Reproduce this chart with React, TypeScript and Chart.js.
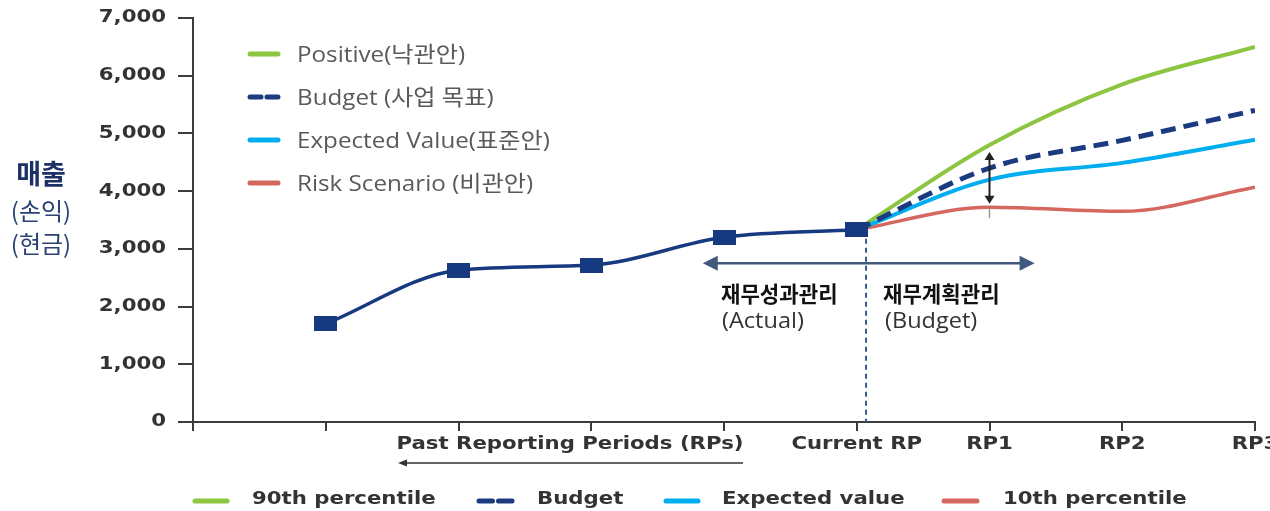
import React, { useEffect, useRef } from 'react';
import { Chart, registerables } from 'chart.js';

Chart.register(...registerables);

// ---------- data ----------
const actualPeriods = [1, 2, 3, 4, 5];
const actualValues = [1700, 2630, 2720, 3200, 3330];

const forecastPeriods = [5, 6, 7, 8];
const positiveValues = [3330, 4800, 5850, 6500];
const budgetValues = [3330, 4400, 4880, 5400];
const expectedValues = [3330, 4200, 4490, 4890];
const riskValues = [3330, 3720, 3650, 4070];

// index = period position 0..8
const xTickLabels = ['', '', '', '', '', 'Current RP', 'RP1', 'RP2', 'RP3'];
const yTickValues = [0, 1000, 2000, 3000, 4000, 5000, 6000, 7000];
const yTickLabels = ['0', '1,000', '2,000', '3,000', '4,000', '5,000', '6,000', '7,000'];

const pastLabel = 'Past Reporting Periods (RPs)';
const yTitleMain = '매출';
const yTitleSubs = ['(손익)', '(현금)'];

const topLegendLabels = ['Positive(낙관안)', 'Budget (사업 목표)', 'Expected Value(표준안)', 'Risk Scenario (비관안)'];
const bottomLegendLabels = ['90th percentile', 'Budget', 'Expected value', '10th percentile'];

const actualNote = ['재무성과관리', '(Actual)'];
const budgetNote = ['재무계획관리', '(Budget)'];

// ---------- styles ----------
const NAVY = '#17397f';
const GREEN = '#8cc540';
const DASH_NAVY = '#1b3a80';
const CYAN = '#00aeef';
const RED = '#d5675f';
const AXIS = '#3c3c3c';
const seriesColors = [GREEN, DASH_NAVY, CYAN, RED];
const STRETCH = 1.25;
const BOLD_FONT = "bold 17px 'DejaVu Sans', Verdana, sans-serif";

function drawText(
  ctx: CanvasRenderingContext2D,
  s: string,
  x: number,
  y: number,
  font: string,
  color: string,
  align: CanvasTextAlign = 'left',
  sx = 1
) {
  ctx.save();
  ctx.font = font;
  ctx.fillStyle = color;
  ctx.textBaseline = 'middle';
  ctx.textAlign = align;
  ctx.translate(x, y);
  ctx.scale(sx, 1);
  ctx.fillText(s, 0, 0);
  ctx.restore();
}

function arrowHead(
  ctx: CanvasRenderingContext2D,
  tipX: number,
  tipY: number,
  dx: number,
  dy: number,
  len: number,
  half: number
) {
  const bx = tipX - dx * len;
  const by = tipY - dy * len;
  const px = -dy;
  const py = dx;
  ctx.beginPath();
  ctx.moveTo(tipX, tipY);
  ctx.lineTo(bx + px * half, by + py * half);
  ctx.lineTo(bx - px * half, by - py * half);
  ctx.closePath();
  ctx.fill();
}

function legendSwatch(ctx: CanvasRenderingContext2D, i: number, x0: number, x1: number, y: number) {
  ctx.save();
  ctx.strokeStyle = seriesColors[i];
  ctx.lineWidth = 5;
  ctx.lineCap = 'round';
  ctx.beginPath();
  if (i === 1) {
    const mid = (x0 + x1) / 2;
    ctx.moveTo(x0 + 2, y);
    ctx.lineTo(mid - 3, y);
    ctx.moveTo(mid + 3, y);
    ctx.lineTo(x1 - 2, y);
  } else {
    ctx.moveTo(x0 + 2, y);
    ctx.lineTo(x1 - 2, y);
  }
  ctx.stroke();
  ctx.restore();
}

const overlayPlugin = {
  id: 'overlay',
  beforeDatasetsDraw(chart: any) {
    const { ctx, scales } = chart;
    const x = scales.x;
    const y = scales.y;
    ctx.save();
    ctx.strokeStyle = '#3a5a8c';
    ctx.lineWidth = 2;
    ctx.setLineDash([5, 4]);
    const vx = x.getPixelForValue(5.07);
    ctx.beginPath();
    ctx.moveTo(vx, y.getPixelForValue(actualValues[4]));
    ctx.lineTo(vx, y.bottom);
    ctx.stroke();
    ctx.restore();
  },
  afterDraw(chart: any) {
    const { ctx, scales } = chart;
    const x = scales.x;
    const y = scales.y;

    // y tick labels
    yTickValues.forEach((v, i) => {
      drawText(ctx, yTickLabels[i], 166, y.getPixelForValue(v), BOLD_FONT, '#333', 'right', STRETCH);
    });
    // x tick labels
    xTickLabels.forEach((lab, i) => {
      if (lab) drawText(ctx, lab, x.getPixelForValue(i), 445, BOLD_FONT, '#333', 'center', STRETCH);
    });
    // past periods label + arrow
    drawText(ctx, pastLabel, 570, 445, BOLD_FONT, '#333', 'center', STRETCH);
    ctx.save();
    ctx.strokeStyle = '#333';
    ctx.fillStyle = '#333';
    ctx.lineWidth = 1.5;
    ctx.beginPath();
    ctx.moveTo(404, 463);
    ctx.lineTo(743, 463);
    ctx.stroke();
    arrowHead(ctx, 398, 463, -1, 0, 9, 3.5);
    ctx.restore();

    // y axis title
    drawText(ctx, yTitleMain, 41, 174, "bold 27px 'Noto Sans CJK KR', sans-serif", '#1c3166', 'center');
    yTitleSubs.forEach((s, i) => {
      drawText(ctx, s, 41, 211 + i * 33, "24px 'Noto Sans CJK KR', sans-serif", '#2b4275', 'center');
    });

    // top-left legend
    topLegendLabels.forEach((s, i) => {
      const ry = 54 + i * 43;
      legendSwatch(ctx, i, 248, 280, ry);
      drawText(ctx, s, 297, ry + 2, "22px 'Open Sans', 'Noto Sans CJK KR', sans-serif", '#5a5a5a', 'left', 1.1);
    });

    // bottom legend
    const swatchX = [[193, 229], [477, 514], [664, 700], [942, 979]];
    const textX = [252, 537, 722, 1003];
    bottomLegendLabels.forEach((s, i) => {
      legendSwatch(ctx, i, swatchX[i][0], swatchX[i][1], 501);
      drawText(ctx, s, textX[i], 500, BOLD_FONT, '#333', 'left', STRETCH);
    });

    // horizontal double arrow (actual vs budget)
    const ay = y.getPixelForValue(2750);
    const ax0 = x.getPixelForValue(3.84);
    const ax1 = x.getPixelForValue(6.34);
    ctx.save();
    ctx.strokeStyle = '#41597f';
    ctx.fillStyle = '#41597f';
    ctx.lineWidth = 2.5;
    ctx.beginPath();
    ctx.moveTo(ax0 + 10, ay);
    ctx.lineTo(ax1 - 10, ay);
    ctx.stroke();
    arrowHead(ctx, ax0, ay, -1, 0, 15, 7.5);
    arrowHead(ctx, ax1, ay, 1, 0, 15, 7.5);
    ctx.restore();

    // annotations
    const noteBold = "bold 22px 'Noto Sans CJK KR', sans-serif";
    const noteLight = "21px 'Open Sans', 'Noto Sans CJK KR', sans-serif";
    drawText(ctx, actualNote[0], 721, 294, noteBold, '#111', 'left', 0.96);
    drawText(ctx, actualNote[1], 722, 322, noteLight, '#333', 'left', 1.12);
    drawText(ctx, budgetNote[0], 883, 294, noteBold, '#111', 'left', 0.96);
    drawText(ctx, budgetNote[1], 885, 322, noteLight, '#333', 'left', 1.12);

    // vertical double arrow at RP1
    const rx = x.getPixelForValue(6);
    const top = y.getPixelForValue(4680);
    const bot = y.getPixelForValue(3780);
    ctx.save();
    ctx.strokeStyle = '#222';
    ctx.fillStyle = '#222';
    ctx.lineWidth = 2;
    ctx.beginPath();
    ctx.moveTo(rx, top + 6);
    ctx.lineTo(rx, bot - 6);
    ctx.stroke();
    arrowHead(ctx, rx, top, 0, -1, 8, 5);
    arrowHead(ctx, rx, bot, 0, 1, 8, 5);
    ctx.strokeStyle = '#999';
    ctx.lineWidth = 1.5;
    ctx.beginPath();
    ctx.moveTo(rx, y.getPixelForValue(3700));
    ctx.lineTo(rx, y.getPixelForValue(3530));
    ctx.stroke();
    ctx.restore();
  },
};

export default function App() {
  const canvasRef = useRef<HTMLCanvasElement | null>(null);

  useEffect(() => {
    const canvas = canvasRef.current;
    if (!canvas) return;

    const marker = document.createElement('canvas');
    marker.width = 23;
    marker.height = 15;
    const mctx = marker.getContext('2d');
    if (mctx) {
      mctx.fillStyle = NAVY;
      mctx.fillRect(0, 0, 23, 15);
    }

    const toPts = (xs: number[], ys: number[]) => xs.map((v, i) => ({ x: v, y: ys[i] }));

    const chart = new Chart(canvas, {
      type: 'line',
      data: {
        datasets: [
          {
            label: 'Actual',
            data: toPts(actualPeriods, actualValues),
            borderColor: NAVY,
            borderWidth: 3.5,
            pointStyle: marker as any,
            pointRadius: 8,
            cubicInterpolationMode: 'monotone',
          },
          {
            label: 'Budget',
            data: toPts(forecastPeriods, budgetValues),
            borderColor: DASH_NAVY,
            borderWidth: 5,
            borderDash: [15, 8],
            pointRadius: 0,
            cubicInterpolationMode: 'monotone',
          },
          {
            label: 'Expected',
            data: toPts(forecastPeriods, expectedValues),
            borderColor: CYAN,
            borderWidth: 4,
            pointRadius: 0,
            cubicInterpolationMode: 'monotone',
          },
          {
            label: 'Positive',
            data: toPts(forecastPeriods, positiveValues),
            borderColor: GREEN,
            borderWidth: 4,
            pointRadius: 0,
            cubicInterpolationMode: 'monotone',
          },
          {
            label: 'Risk',
            data: toPts(forecastPeriods, riskValues),
            borderColor: RED,
            borderWidth: 3.5,
            pointRadius: 0,
            cubicInterpolationMode: 'monotone',
          },
        ],
      },
      options: {
        responsive: false,
        animation: false,
        layout: { padding: { top: 18, right: 15, left: 0, bottom: 0 } },
        plugins: {
          legend: { display: false },
          tooltip: { enabled: false },
        },
        scales: {
          x: {
            type: 'linear',
            min: 0,
            max: 8,
            ticks: { stepSize: 1, display: false },
            grid: { drawOnChartArea: false, drawTicks: true, tickLength: 9, color: AXIS, lineWidth: 2 },
            border: { display: true, color: AXIS, width: 2 },
            afterFit: (s: any) => {
              s.height = 89;
            },
          },
          y: {
            type: 'linear',
            min: 0,
            max: 7000,
            ticks: { stepSize: 1000, display: false },
            grid: { drawOnChartArea: false, drawTicks: true, tickLength: 15, color: AXIS, lineWidth: 2 },
            border: { display: true, color: AXIS, width: 2 },
            afterFit: (s: any) => {
              s.width = 193;
            },
          },
        },
      },
      plugins: [overlayPlugin],
    });

    return () => chart.destroy();
  }, []);

  return (
    <div style={{ position: 'fixed', left: 0, top: 0, width: 1270, height: 511, background: '#fff' }}>
      <canvas ref={canvasRef} width={1270} height={511} style={{ display: 'block' }} />
    </div>
  );
}
